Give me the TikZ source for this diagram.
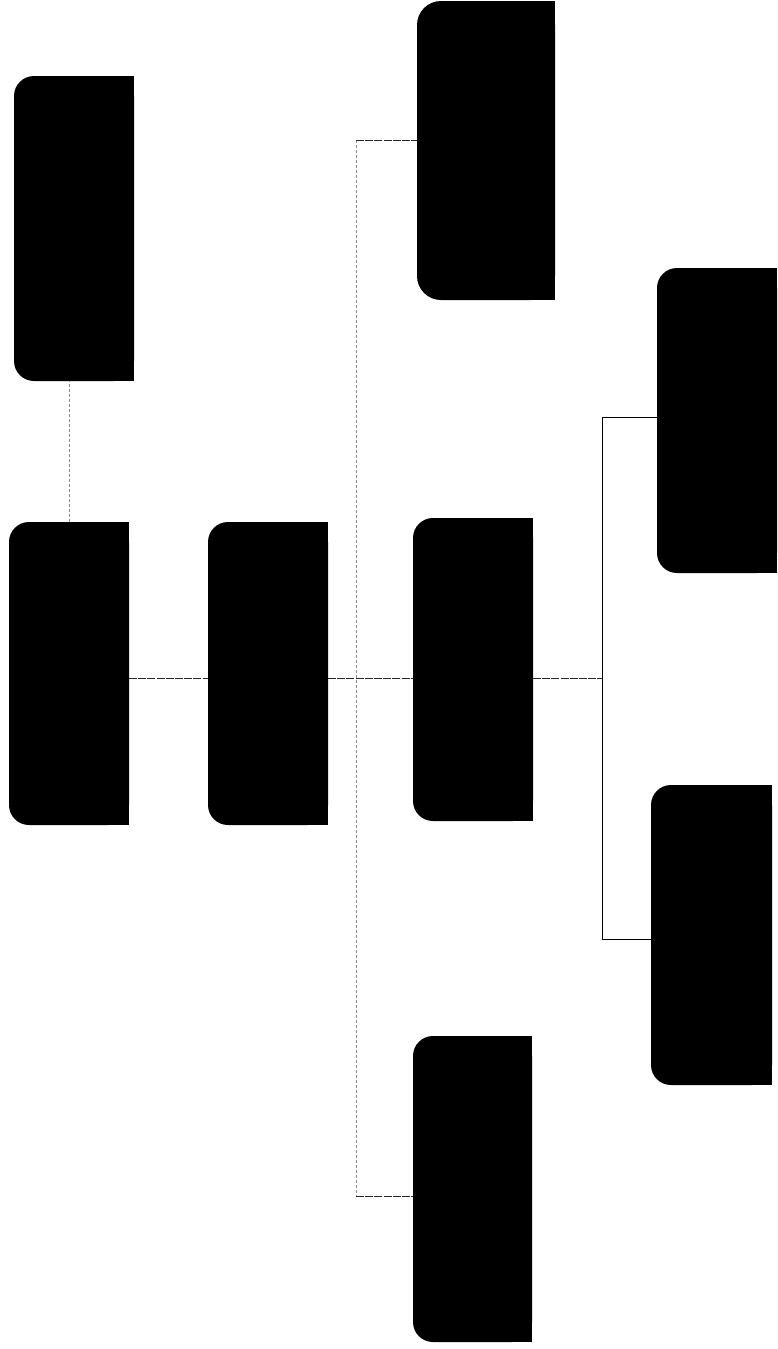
\documentclass[tikz,border=0pt]{standalone}
\begin{document}
\begin{tikzpicture}[x=1pt,y=-1pt,
  blk/.style={fill=black,rounded corners=20pt,inner sep=0pt,outer sep=0pt},
  dline/.style={line width=0.9pt,black!85,dash pattern=on 8pt off 1.2pt},
  lline/.style={line width=0.7pt,black!45,dash pattern=on 3pt off 2pt},
  sline/.style={line width=0.8pt,black}]
\useasboundingbox (0,0) rectangle (777,1349);
\fill[white] (0,0) rectangle (777,1349);
% boxes
\node[blk,minimum width=120pt,minimum height=305pt] (A) at (74,228.5) {};
\node[blk,minimum width=120pt,minimum height=303pt] (B) at (69,673.5) {};
\node[blk,minimum width=120pt,minimum height=303pt] (C) at (268,673.5) {};
\node[blk,minimum width=138pt,minimum height=299pt,rounded corners=24pt] (D) at (486,150.5) {};
\node[blk,minimum width=120pt,minimum height=303pt] (E) at (473,669.5) {};
\node[blk,minimum width=120pt,minimum height=305pt] (F) at (717,420.5) {};
\node[blk,minimum width=121pt,minimum height=300pt] (G) at (711.5,935) {};
\node[blk,minimum width=119pt,minimum height=306pt] (H) at (472.5,1189) {};
% square right corners
\foreach \n in {A,B,C,D,E,F,G,H} {\fill[black] (\n.north) rectangle (\n.south east);}
% junctions
\coordinate (j1) at (356,678);
\coordinate (t1) at (356,140);
\coordinate (b1) at (356,1196);
\coordinate (j2) at (602,678);
\coordinate (t2) at (602,417);
\coordinate (b2) at (602,939);
% connectors
\draw[lline] (B.north) -- (B.north |- A.south);
\draw[dline] (B.east |- j1) -- (C.west |- j1);
\draw[dline] (C.east |- j1) -- (E.west |- j1);
\draw[lline] (t1) -- (b1);
\draw[dline] (t1) -- (D.west |- t1);
\draw[dline] (b1) -- (H.west |- b1);
\draw[dline] (E.east |- j2) -- (j2);
\draw[sline] (F.west |- t2) -- (t2) -- (b2) -- (G.west |- b2);
\end{tikzpicture}
\end{document}
